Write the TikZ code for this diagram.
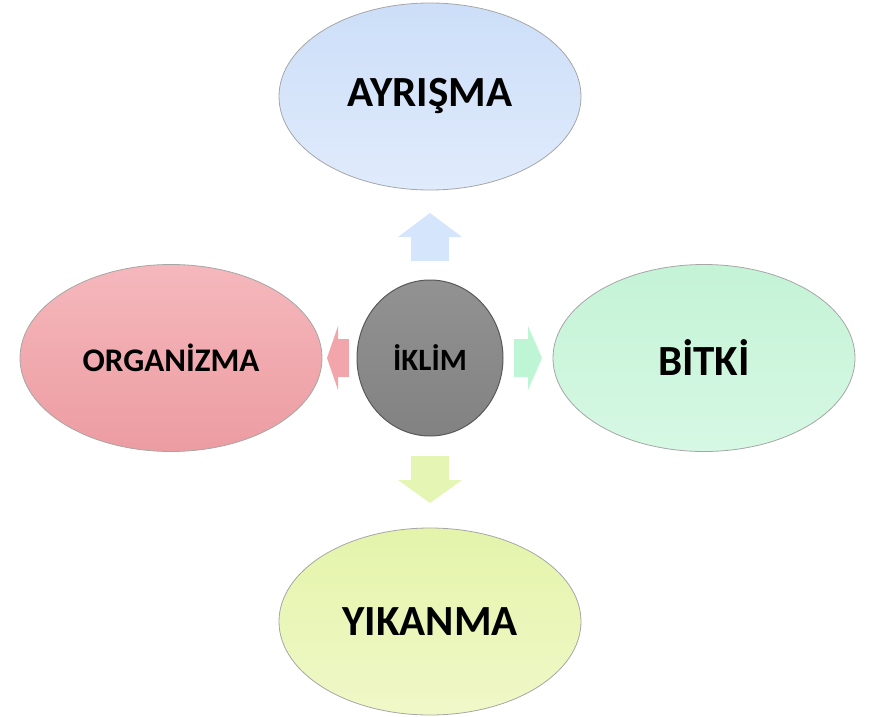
\documentclass[tikz,border=0pt]{standalone}
\usepackage{fontspec}
\setmainfont{Carlito}
\usetikzlibrary{positioning,shapes.geometric,arrows.meta,calc}

\definecolor{mavi1}{RGB}{204,222,248}
\definecolor{mavi2}{RGB}{224,235,252}
\definecolor{kirmizi1}{RGB}{245,184,188}
\definecolor{kirmizi2}{RGB}{236,156,162}
\definecolor{yesil1}{RGB}{196,243,214}
\definecolor{yesil2}{RGB}{214,248,228}
\definecolor{sari1}{RGB}{228,244,170}
\definecolor{sari2}{RGB}{240,248,200}
\definecolor{gri1}{RGB}{146,146,146}
\definecolor{gri2}{RGB}{130,130,130}
\definecolor{okmavi}{RGB}{213,229,251}
\definecolor{okkirmizi}{RGB}{242,165,170}
\definecolor{okyesil}{RGB}{190,245,212}
\definecolor{oksari}{RGB}{229,245,180}

\begin{document}
\begin{tikzpicture}[x=1pt,y=1pt,
    halka/.style={ellipse,draw=black!35,line width=0.8pt,inner sep=0pt,outer sep=0pt,
        minimum width=302pt,minimum height=187pt,font=\bfseries\fontsize{43}{48}\selectfont},
    merkez/.style={ellipse,draw=black!65,line width=1pt,inner sep=0pt,outer sep=0pt,
        minimum width=146pt,minimum height=156pt,top color=gri1,bottom color=gri2,
        font=\bfseries\fontsize{31}{35}\selectfont},
    okbuyuk/.style 2 args={draw=#1,line width=38pt,
        -{Triangle[width=64pt,length=#2,line width=0pt,fill=#1]}}
  ]
    \useasboundingbox (0,0) rectangle (871,-717);

    \node[merkez] (iklim) at (430,-358) {İKLİM};
    \node[halka,above=90pt of iklim,top color=mavi1,bottom color=mavi2] (ayrisma) {AYRIŞMA};
    \node[halka,left=35pt of iklim,top color=kirmizi1,bottom color=kirmizi2,
        font=\bfseries\fontsize{33}{37}\selectfont] (organizma) {ORGANİZMA};
    \node[halka,right=50pt of iklim,top color=yesil1,bottom color=yesil2] (bitki) {BİTKİ};
    \node[halka,below=92pt of iklim,top color=sari1,bottom color=sari2] (yikanma) {YIKANMA};

    % \draw[okbuyuk={okmavi}{24pt}] (iklim) -- (ayrisma);
    \draw[okbuyuk={okmavi}{24pt}] ($(iklim.north)+(0,19)$) -- ($(ayrisma.south)+(0,-23)$);
    \draw[okbuyuk={okkirmizi}{11pt}] ($(iklim.west)+(-8,0)$) -- ($(organizma.east)+(5,0)$);
    \draw[okbuyuk={okyesil}{14pt}] ($(iklim.east)+(11,0)$) -- ($(bitki.west)+(-11,0)$);
    \draw[okbuyuk={oksari}{23pt}] ($(iklim.south)+(0,-20)$) -- ($(yikanma.north)+(0,25)$);
\end{tikzpicture}
\end{document}
